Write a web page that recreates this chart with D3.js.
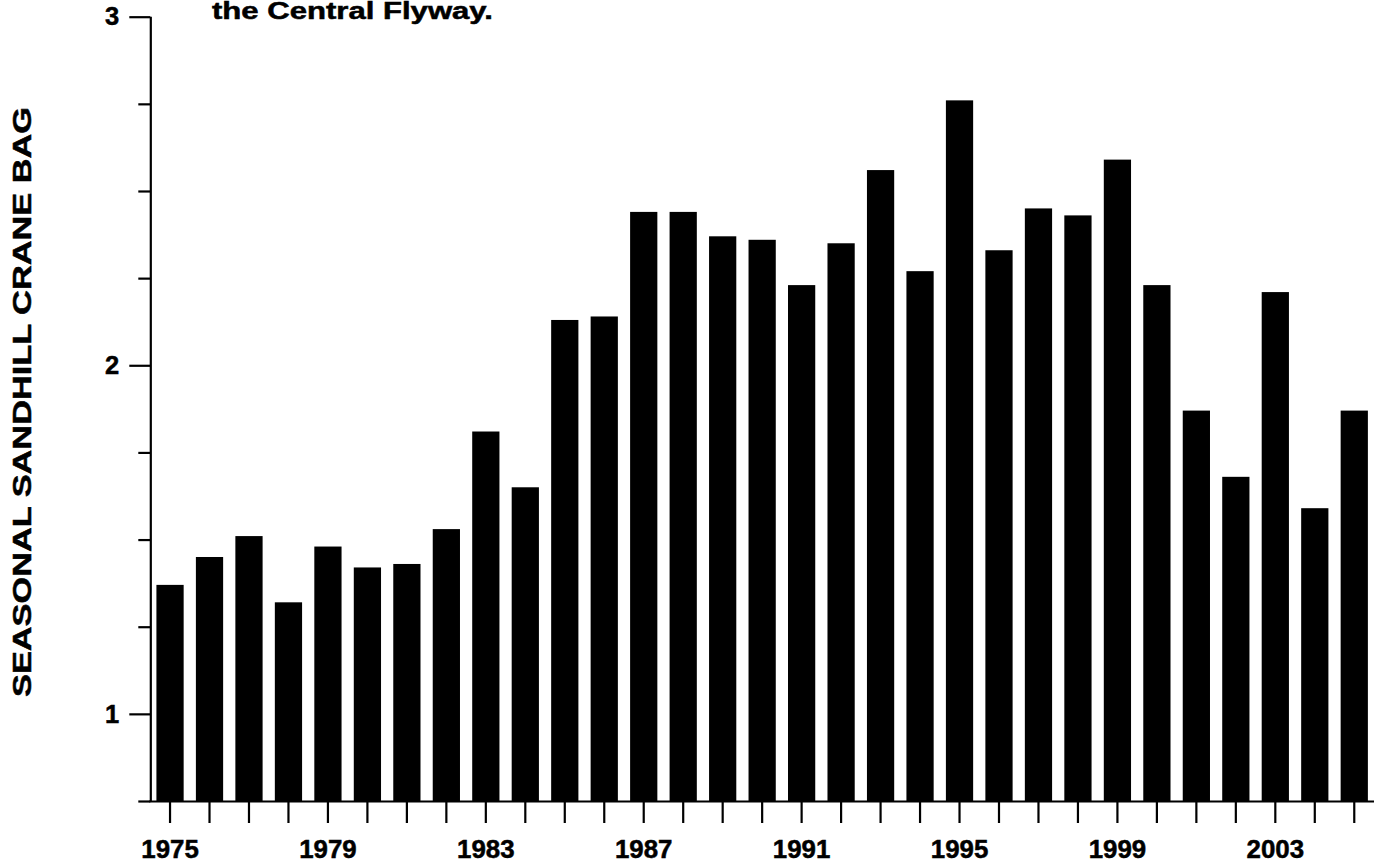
<!DOCTYPE html>
<html>
<head>
<meta charset="utf-8">
<script src="https://cdn.jsdelivr.net/npm/d3@7"></script>
<style>
  html, body { margin: 0; padding: 0; background: #fff; }
  svg { display: block; font-family: "Liberation Sans", Arial, Helvetica, sans-serif; font-weight: bold; }
  text.lbl { stroke: #000; stroke-width: 0.5px; paint-order: stroke; }
</style>
</head>
<body>
<svg id="chart" width="1384" height="865"></svg>
<script>
// Data
const years = [1975,1976,1977,1978,1979,1980,1981,1982,1983,1984,1985,1986,1987,1988,1989,1990,
               1991,1992,1993,1994,1995,1996,1997,1998,1999,2000,2001,2002,2003,2004,2005];
const bag   = [1.37,1.45,1.51,1.32,1.48,1.42,1.43,1.53,1.81,1.65,2.13,2.14,2.44,2.44,2.37,2.36,
               2.23,2.35,2.56,2.27,2.76,2.33,2.45,2.43,2.59,2.23,1.87,1.68,2.21,1.59,1.87];
const xLabelYears = [1975,1979,1983,1987,1991,1995,1999,2003];
const yMajorTicks = [1,2,3];
const yMinorTicks = [0.75,1.25,1.5,1.75,2.25,2.5,2.75];
const yTitle = "SEASONAL SANDHILL CRANE BAG";
const chartTitle = "the Central Flyway.";

(function () {
const svg = d3.select("#chart");
const mLeft = 150.3, mRight = 1374, mTop = 16.7, mBottom = 801;

const x = d3.scaleBand().domain(years).range([mLeft, mRight]).paddingInner(0.31).paddingOuter(0.155);
const y = d3.scaleLinear().domain([0.75, 3]).range([mBottom, mTop]);

// bars
svg.append("g").selectAll("rect").data(years).join("rect")
  .attr("x", (d) => x(d))
  .attr("width", x.bandwidth())
  .attr("y", (d, i) => y(bag[i]))
  .attr("height", (d, i) => mBottom - y(bag[i]))
  .attr("fill", "#000");

// x axis
const xAxis = d3.axisBottom(x).tickSize(22).tickSizeOuter(0)
  .tickFormat(() => "");
const gx = svg.append("g").attr("transform", `translate(0,${mBottom})`).call(xAxis);
gx.select(".domain").attr("d", `M${mLeft - 1},0.5H${mRight}`).attr("stroke", "#000").attr("stroke-width", 2.2);
gx.selectAll(".tick line").attr("stroke", "#000").attr("stroke-width", 2.2);

svg.append("g").selectAll("text").data(xLabelYears).join("text")
  .attr("class", "lbl")
  .attr("x", (d) => x(d) + x.bandwidth() / 2)
  .attr("y", 857.5)
  .attr("text-anchor", "middle")
  .attr("font-size", 25.5)
  .attr("textLength", 57.5)
  .attr("lengthAdjust", "spacingAndGlyphs")
  .text((d) => d);

// y axis
const yAxis = d3.axisLeft(y).tickValues(yMajorTicks).tickSize(21).tickSizeOuter(0).tickPadding(10)
  .tickFormat(d3.format("d"));
const gy = svg.append("g").attr("transform", `translate(${mLeft},0)`).call(yAxis);
gy.select(".domain").attr("stroke", "#000").attr("stroke-width", 2.2).attr("d", `M0.5,${mTop}V${mBottom}`);
gy.selectAll(".tick line").attr("stroke", "#000").attr("stroke-width", 2.2);
gy.selectAll(".tick text").attr("class", "lbl").attr("font-size", 25.5)
  .attr("font-family", "'Liberation Sans', Arial, sans-serif")
  .attr("font-weight", "bold").attr("fill", "#000");

const yMinor = d3.axisLeft(y).tickValues(yMinorTicks).tickSize(12).tickFormat(() => "");
const gym = svg.append("g").attr("transform", `translate(${mLeft},0)`).call(yMinor);
gym.select(".domain").remove();
gym.selectAll(".tick line").attr("stroke", "#000").attr("stroke-width", 2.2);

// y title
svg.append("text")
  .attr("class", "lbl")
  .attr("transform", `translate(30.5,402) rotate(-90)`)
  .attr("text-anchor", "middle")
  .attr("font-size", 26.5)
  .attr("textLength", 590)
  .attr("lengthAdjust", "spacingAndGlyphs")
  .text(yTitle);

// partially visible title (cut at the top edge, as in the reference)
svg.append("text")
  .attr("class", "lbl")
  .attr("x", 212)
  .attr("y", 18.5)
  .attr("font-size", 23)
  .attr("textLength", 281)
  .attr("lengthAdjust", "spacingAndGlyphs")
  .text(chartTitle);
})();
</script>
</body>
</html>
